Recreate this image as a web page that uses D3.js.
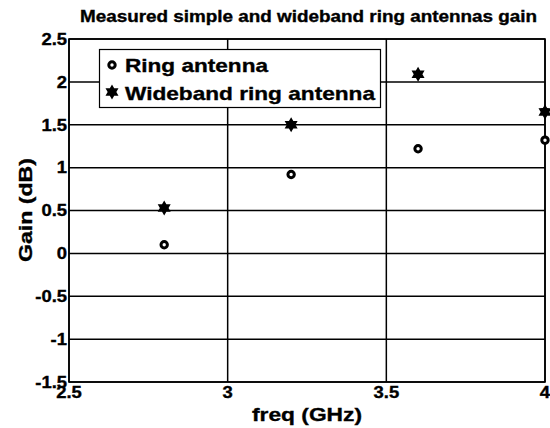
<!DOCTYPE html>
<html>
<head>
<meta charset="utf-8">
<script src="https://cdn.jsdelivr.net/npm/d3@7"></script>
<style>
  html, body { margin: 0; padding: 0; background: #fff; }
  svg { display: block; font-family: "Liberation Sans", Arial, sans-serif; }
  text { fill: #000; stroke: #000; stroke-width: 0.35px; font-weight: bold; }
</style>
</head>
<body>
<svg id="chart" width="550" height="428"></svg>
<script>
// Measured gain of the two antennas
const freqs = [2.8, 3.2, 3.6, 4.0];
const ringGain = [0.1, 0.92, 1.22, 1.32];
const widebandGain = [0.53, 1.5, 2.09, 1.65];
const seriesNames = ["Ring antenna", "Wideband ring antenna"];
const xTicks = [2.5, 3, 3.5, 4];
const yTicks = [-1.5, -1, -0.5, 0, 0.5, 1, 1.5, 2, 2.5];

const svg = d3.select("#chart");
const margin = { left: 69, right: 5, top: 39, bottom: 46 };
const W = 550, H = 428;

const x = d3.scaleLinear().domain([2.5, 4]).range([margin.left, W - margin.right]);
const y = d3.scaleLinear().domain([-1.5, 2.5]).range([H - margin.bottom, margin.top]);

// widen bold text a little, the way the plotting tool renders it
function widen(sel, factor) {
  sel.each(function () {
    const w = this.getComputedTextLength();
    d3.select(this).attr("textLength", w * factor).attr("lengthAdjust", "spacingAndGlyphs");
  });
}

// grid
const grid = svg.append("g");
grid.selectAll("line.h").data(yTicks).join("line")
  .attr("x1", x.range()[0]).attr("x2", x.range()[1])
  .attr("y1", d => y(d)).attr("y2", d => y(d))
  .attr("stroke", "#000").attr("stroke-width", 1.5);
grid.selectAll("line.v").data(xTicks).join("line")
  .attr("y1", y.range()[0]).attr("y2", y.range()[1])
  .attr("x1", d => x(d)).attr("x2", d => x(d))
  .attr("stroke", "#000").attr("stroke-width", 1.5);

// frame
svg.append("rect")
  .attr("x", x.range()[0]).attr("y", y.range()[1])
  .attr("width", x.range()[1] - x.range()[0])
  .attr("height", y.range()[0] - y.range()[1])
  .attr("fill", "none").attr("stroke", "#000").attr("stroke-width", 1.6);

// tick labels placed through the scales
const fmt = d => String(d);
const xLabels = svg.append("g").selectAll("text").data(xTicks).join("text")
  .attr("x", d => x(d)).attr("y", y.range()[0] + 16)
  .attr("text-anchor", "middle")
  .attr("font-size", 16)
  .text(fmt);
const yLabels = svg.append("g").selectAll("text").data(yTicks).join("text")
  .attr("x", x.range()[0] - 2).attr("y", d => y(d)).attr("dy", "0.36em")
  .attr("text-anchor", "end")
  .attr("font-size", 16)
  .text(fmt);
widen(xLabels, 1.15);
widen(yLabels, 1.15);

// six-pointed star marker
function hexStar(cx, cy, r) {
  const pts = [];
  for (let i = 0; i < 12; i++) {
    const a = -Math.PI / 2 + i * Math.PI / 6;
    const rr = i % 2 === 0 ? r : r * 0.58;
    pts.push([cx + rr * Math.cos(a), cy + rr * Math.sin(a)]);
  }
  return "M" + pts.map(p => p.join(",")).join("L") + "Z";
}

const plot = svg.append("g");
plot.selectAll("circle.ring").data(freqs).join("circle")
  .attr("class", "ring")
  .attr("cx", d => x(d)).attr("cy", (d, i) => y(ringGain[i]))
  .attr("r", 3.2).attr("fill", "#fff").attr("stroke", "#000").attr("stroke-width", 3);
plot.selectAll("path.wide").data(freqs).join("path")
  .attr("class", "wide")
  .attr("d", (d, i) => hexStar(x(d), y(widebandGain[i]), 7.5))
  .attr("fill", "#000");

// legend
const lg = svg.append("g");
lg.append("rect").attr("x", 99.5).attr("y", 49.5).attr("width", 281).attr("height", 58)
  .attr("fill", "#fff").attr("stroke", "#000").attr("stroke-width", 1.2);
lg.append("circle").attr("cx", 112).attr("cy", 65).attr("r", 3.2)
  .attr("fill", "#fff").attr("stroke", "#000").attr("stroke-width", 3);
lg.append("path").attr("d", hexStar(112, 92, 7.5)).attr("fill", "#000");
const legendWidths = [143, 250];
lg.selectAll("text").data(seriesNames).join("text")
  .attr("x", 125).attr("y", (d, i) => 72 + i * 28)
  .attr("font-size", 19)
  .attr("textLength", (d, i) => legendWidths[i]).attr("lengthAdjust", "spacingAndGlyphs")
  .text(d => d);

// titles
svg.append("text").attr("x", 308.5).attr("y", 22).attr("text-anchor", "middle")
  .attr("font-size", 16)
  .attr("textLength", 457).attr("lengthAdjust", "spacingAndGlyphs")
  .text("Measured simple and wideband ring antennas gain");
svg.append("text").attr("x", 307).attr("y", 421).attr("text-anchor", "middle")
  .attr("font-size", 19)
  .attr("textLength", 110).attr("lengthAdjust", "spacingAndGlyphs")
  .text("freq (GHz)");
svg.append("text").attr("transform", "translate(32,210) rotate(-90)")
  .attr("text-anchor", "middle")
  .attr("font-size", 19)
  .attr("textLength", 104).attr("lengthAdjust", "spacingAndGlyphs")
  .text("Gain (dB)");
</script>
</body>
</html>
